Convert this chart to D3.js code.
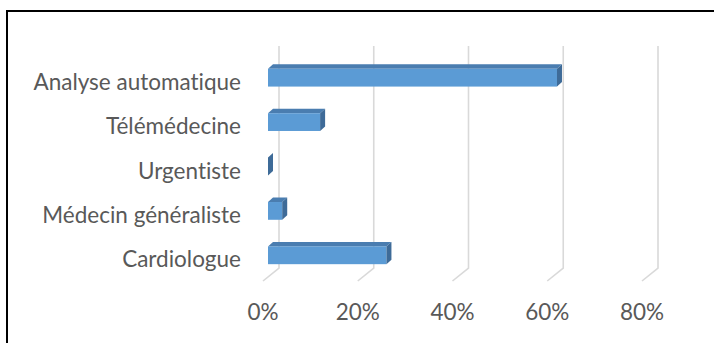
<!DOCTYPE html>
<html><head><meta charset="utf-8">
<script src="https://cdn.jsdelivr.net/npm/d3@7"></script>
<style>html,body{margin:0;padding:0;background:#fff;overflow:hidden}
text{font-variant-ligatures:none;font-feature-settings:"liga" 0,"clig" 0}</style>
</head><body>
<svg id="c" width="714" height="343"></svg>
<script>
const categories = ["Analyse automatique","Télémédecine","Urgentiste","Médecin généraliste","Cardiologue"];
const values = [0.61, 0.11, 0.0, 0.03, 0.25];
const tickValues = [0, 0.2, 0.4, 0.6, 0.8];
const tickLabels = ["0%","20%","40%","60%","80%"];

const svg = d3.select("#c");
const FONT = "Lato, 'Open Sans', sans-serif";
// frame
svg.append("rect").attr("x",7).attr("y",11).attr("width",730).attr("height",360)
  .attr("fill","none").attr("stroke","#000").attr("stroke-width",2);

// back wall scales
const x = d3.scaleLinear().domain([0,0.8]).range([279,658]);
const y = d3.scaleBand().domain(categories).range([46,268]).paddingInner(0.6).paddingOuter(0.3);
const wallTop = 46, wallBottom = 268;
const floorDX = -16, floorDY = 13;     // floor depth
const frontDX = -11, frontDY = 9.5;    // bar front face offset from wall
const depthDX = 5, depthDY = -4.5;     // bar depth

// gridlines
const g = svg.append("g");
tickValues.forEach(v=>{
  const gx = x(v);
  g.append("path")
   .attr("d",`M${gx},${wallTop}L${gx},${wallBottom}L${gx+floorDX},${wallBottom+floorDY}`)
   .attr("fill","none").attr("stroke","#d9d9d9").attr("stroke-width",1.6);
});

// bars
const bars = svg.append("g");
categories.forEach((c,i)=>{
  const v = values[i];
  const x0 = x(0)+frontDX, x1 = x(v)+frontDX;
  const y0 = y(c)+frontDY, y1 = y0 + y.bandwidth();
  if (x1 > x0) {
    bars.append("path")
      .attr("d",`M${x0},${y0}L${x0+depthDX},${y0+depthDY}L${x1+depthDX},${y0+depthDY}L${x1},${y0}Z`)
      .attr("fill","#4a7db0");
    bars.append("rect").attr("x",x0).attr("y",y0).attr("width",x1-x0).attr("height",y1-y0)
      .attr("fill","#5b9bd5");
  }
  bars.append("path")
    .attr("d",`M${x1},${y0}L${x1+depthDX},${y0+depthDY}L${x1+depthDX},${y1+depthDY}L${x1},${y1}Z`)
    .attr("fill","#3e6b98");
});

// category labels
svg.append("g").selectAll("text").data(categories).join("text")
  .attr("x",241).attr("y",d=>y(d)+y.bandwidth()/2+frontDY+12)
  .attr("text-anchor","end").attr("fill","#595959")
  .style("font-family",FONT).style("font-size","22.5px")
  .text(d=>d);

// tick labels
svg.append("g").selectAll("text").data(tickValues).join("text")
  .attr("x",(d)=>x(d)+floorDX).attr("y",320)
  .attr("text-anchor","middle").attr("fill","#595959")
  .style("font-family",FONT).style("font-size","22.5px")
  .text((d,i)=>tickLabels[i]);
</script>
</body></html>
